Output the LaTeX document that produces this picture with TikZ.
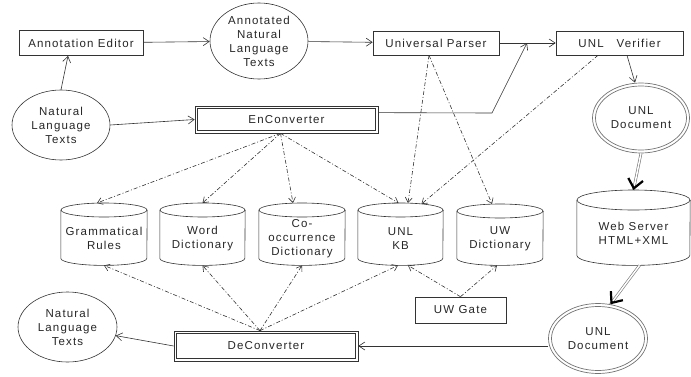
\documentclass[tikz,border=0pt]{standalone}
\usepackage{fontspec}
\setmainfont{Liberation Sans}[LetterSpace=10]
\usetikzlibrary{arrows.meta,calc,shapes.geometric}
\tikzset{
  every node/.style={font=\fontsize{11.5}{14}\selectfont, text=black!85},
  ln/.style={draw=black!80, line width=0.6pt},
  gln/.style={draw=black!55, line width=0.7pt},
  boxnode/.style={rectangle, ln, inner sep=0pt},
  ellnode/.style={ellipse, ln, inner sep=0pt, align=center},
  gellnode/.style={ellipse, gln, inner sep=0pt, align=center},
  cylbox/.style={rectangle, inner sep=0pt, draw=none},
  txt/.style={align=center, inner sep=0pt},
  arr/.style={ln, -{Straight Barb[length=6pt,width=8pt]}},
  darr/.style={ln, dash pattern=on 4pt off 2pt on 1pt off 2pt, -{Straight Barb[length=5pt,width=7pt]}},
  dshaft/.style={draw=black!55, line width=0.6pt, double=white, double distance=1.5pt},
  dtip/.style={tips=true, black, line width=2.2pt, -{Straight Barb[length=9pt,width=15pt]}},
}
\newcommand\dbcyl[7]{%
  \node[cylbox, minimum width=#4pt, minimum height=#5pt, anchor=north] (#1) at (#2,#3) {};
  \draw[ln] ($(#1.north)+(0,-#6)$) ellipse [x radius=#4pt/2, y radius=#6pt];
  \draw[ln] ($(#1.north west)+(0,-#6)$) -- ($(#1.south west)+(0,#6)$)
     arc[start angle=180, end angle=360, x radius=#4pt/2, y radius=#6pt] -- ($(#1.north east)+(0,-#6)$);
  \node[txt] (#1t) at ($(#1.center)+(0,-0.6*#6)$) {#7};
}
\begin{document}
\begin{tikzpicture}[x=1pt,y=1pt]
\useasboundingbox (0,0) rectangle (691,376);
% top row
\node[boxnode, minimum width=124pt, minimum height=25pt] (ae) at (81,333) {Annotation Editor};
\node[ellnode, minimum width=98pt, minimum height=76pt, inner sep=-2pt] (ant) at (259,335) {Annotated\\Natural\\Language\\Texts};
\node[boxnode, minimum width=126pt, minimum height=24pt] (up) at (436,333) {Universal Parser};
\node[boxnode, minimum width=127pt, minimum height=24pt] (uv) at (619.5,333) {UNL\ \ \ Verifier};
% second row
\node[ellnode, minimum width=98pt, minimum height=70pt] (nlt1) at (61,251) {Natural\\Language\\Texts};
\node[boxnode, line width=0.7pt, minimum width=183pt, minimum height=27pt] (enc) at (286.5,256.5) {EnConverter};
\draw[ln, line width=0.7pt] ($(enc.south west)+(3,3)$) rectangle ($(enc.north east)+(-3,-3)$);
\node[gellnode, minimum width=97pt, minimum height=70pt] (doc1) at (641,258) {UNL\\Document};
\draw[gln] (doc1.center) ellipse [x radius=45.5pt, y radius=32pt];
% cylinders
\dbcyl{gr}{104}{173}{86}{62}{7}{Grammatical\\Rules}
\dbcyl{wd}{202.5}{173}{85}{62}{7}{Word\\Dictionary}
\dbcyl{co}{302}{173}{86}{62}{7}{Co-\\occurrence\\Dictionary}
\dbcyl{kb}{400.5}{173}{85}{62}{7}{UNL\\KB}
\dbcyl{uwd}{500}{172}{86}{61}{7}{UW\\Dictionary}
\dbcyl{ws}{633.5}{186}{113}{75}{10}{Web Server\\HTML+XML}
% bottom row
\node[boxnode, minimum width=91pt, minimum height=26pt] (uwg) at (460.5,66) {UW Gate};
\node[boxnode, line width=0.7pt, minimum width=184pt, minimum height=30pt] (dec) at (266,30) {DeConverter};
\draw[ln, line width=0.7pt] ($(dec.south west)+(3,3)$) rectangle ($(dec.north east)+(-3,-3)$);
\node[ellnode, minimum width=99pt, minimum height=70pt] (nlt2) at (67.5,49) {Natural\\Language\\Texts};
\node[gellnode, minimum width=99pt, minimum height=70pt] (doc2) at (598,37.5) {UNL\\Document};
\draw[gln] (doc2.center) ellipse [x radius=46.5pt, y radius=32pt];
% helper coordinates
\coordinate (j1) at (492,263);
\coordinate (j2) at (527,333);
\coordinate (es) at ($(enc.south)+(-6,0)$);
\coordinate (ds) at ($(dec.north)+(-6,0)$);
\coordinate (ps) at ($(up.south)+(-7,0)$);
\coordinate (vs) at ($(uv.south)+(-21.5,0)$);
% solid connectors
\draw[arr] (ae) -- (ant);
\draw[arr] (ant) -- (up);
\draw[arr] (up) -- (uv);
\draw[arr] (nlt1.north) -- ($(ae.south)+(-13,0)$);
\draw[arr] (nlt1.east) -- (enc.west);
\draw[arr] ($(enc.north east)+(0,-7)$) -- (j1) -- (j2);
\draw[arr] ($(uv.south)+(7.5,0)$) -- ($(doc1.north)+(-6,0)$);
\draw[arr] (doc2.west |- dec.east) -- (dec.east);
\draw[arr] (dec.west) -- (nlt2);
% double connectors
\draw[dshaft] (doc1.south) -- (ws.north);
\path[dtip] (doc1.south) -- (ws.north);
\draw[dshaft] ($(ws.south)+(6,0)$) -- (doc2.70);
\path[dtip] ($(ws.south)+(6,0)$) -- (doc2.70);
% dash-dot connectors
\draw[darr] (es) -- ($(gr.north)+(-7,0)$);
\draw[darr] (es) -- (wd.north);
\draw[darr] (es) -- ($(co.north)+(-9,0)$);
\draw[darr] (es) -- ($(kb.north)+(-2,0)$);
\draw[darr] (ps) -- ($(kb.north)+(7.5,0)$);
\draw[darr] (ps) -- ($(uwd.north)+(-8,0)$);
\draw[darr] (vs) -- ($(kb.north)+(21,-1)$);
\draw[darr] (ds) -- (gr.south);
\draw[darr] (ds) -- (wd.south);
\draw[darr] (ds) -- (co.south);
\draw[darr] (ds) -- ($(kb.south)+(-2.5,0)$);
\draw[darr] (uwg.north) -- ($(kb.south)+(7.5,0)$);
\draw[darr] (uwg.north) -- ($(uwd.south)+(-3,0)$);
\end{tikzpicture}
\end{document}
